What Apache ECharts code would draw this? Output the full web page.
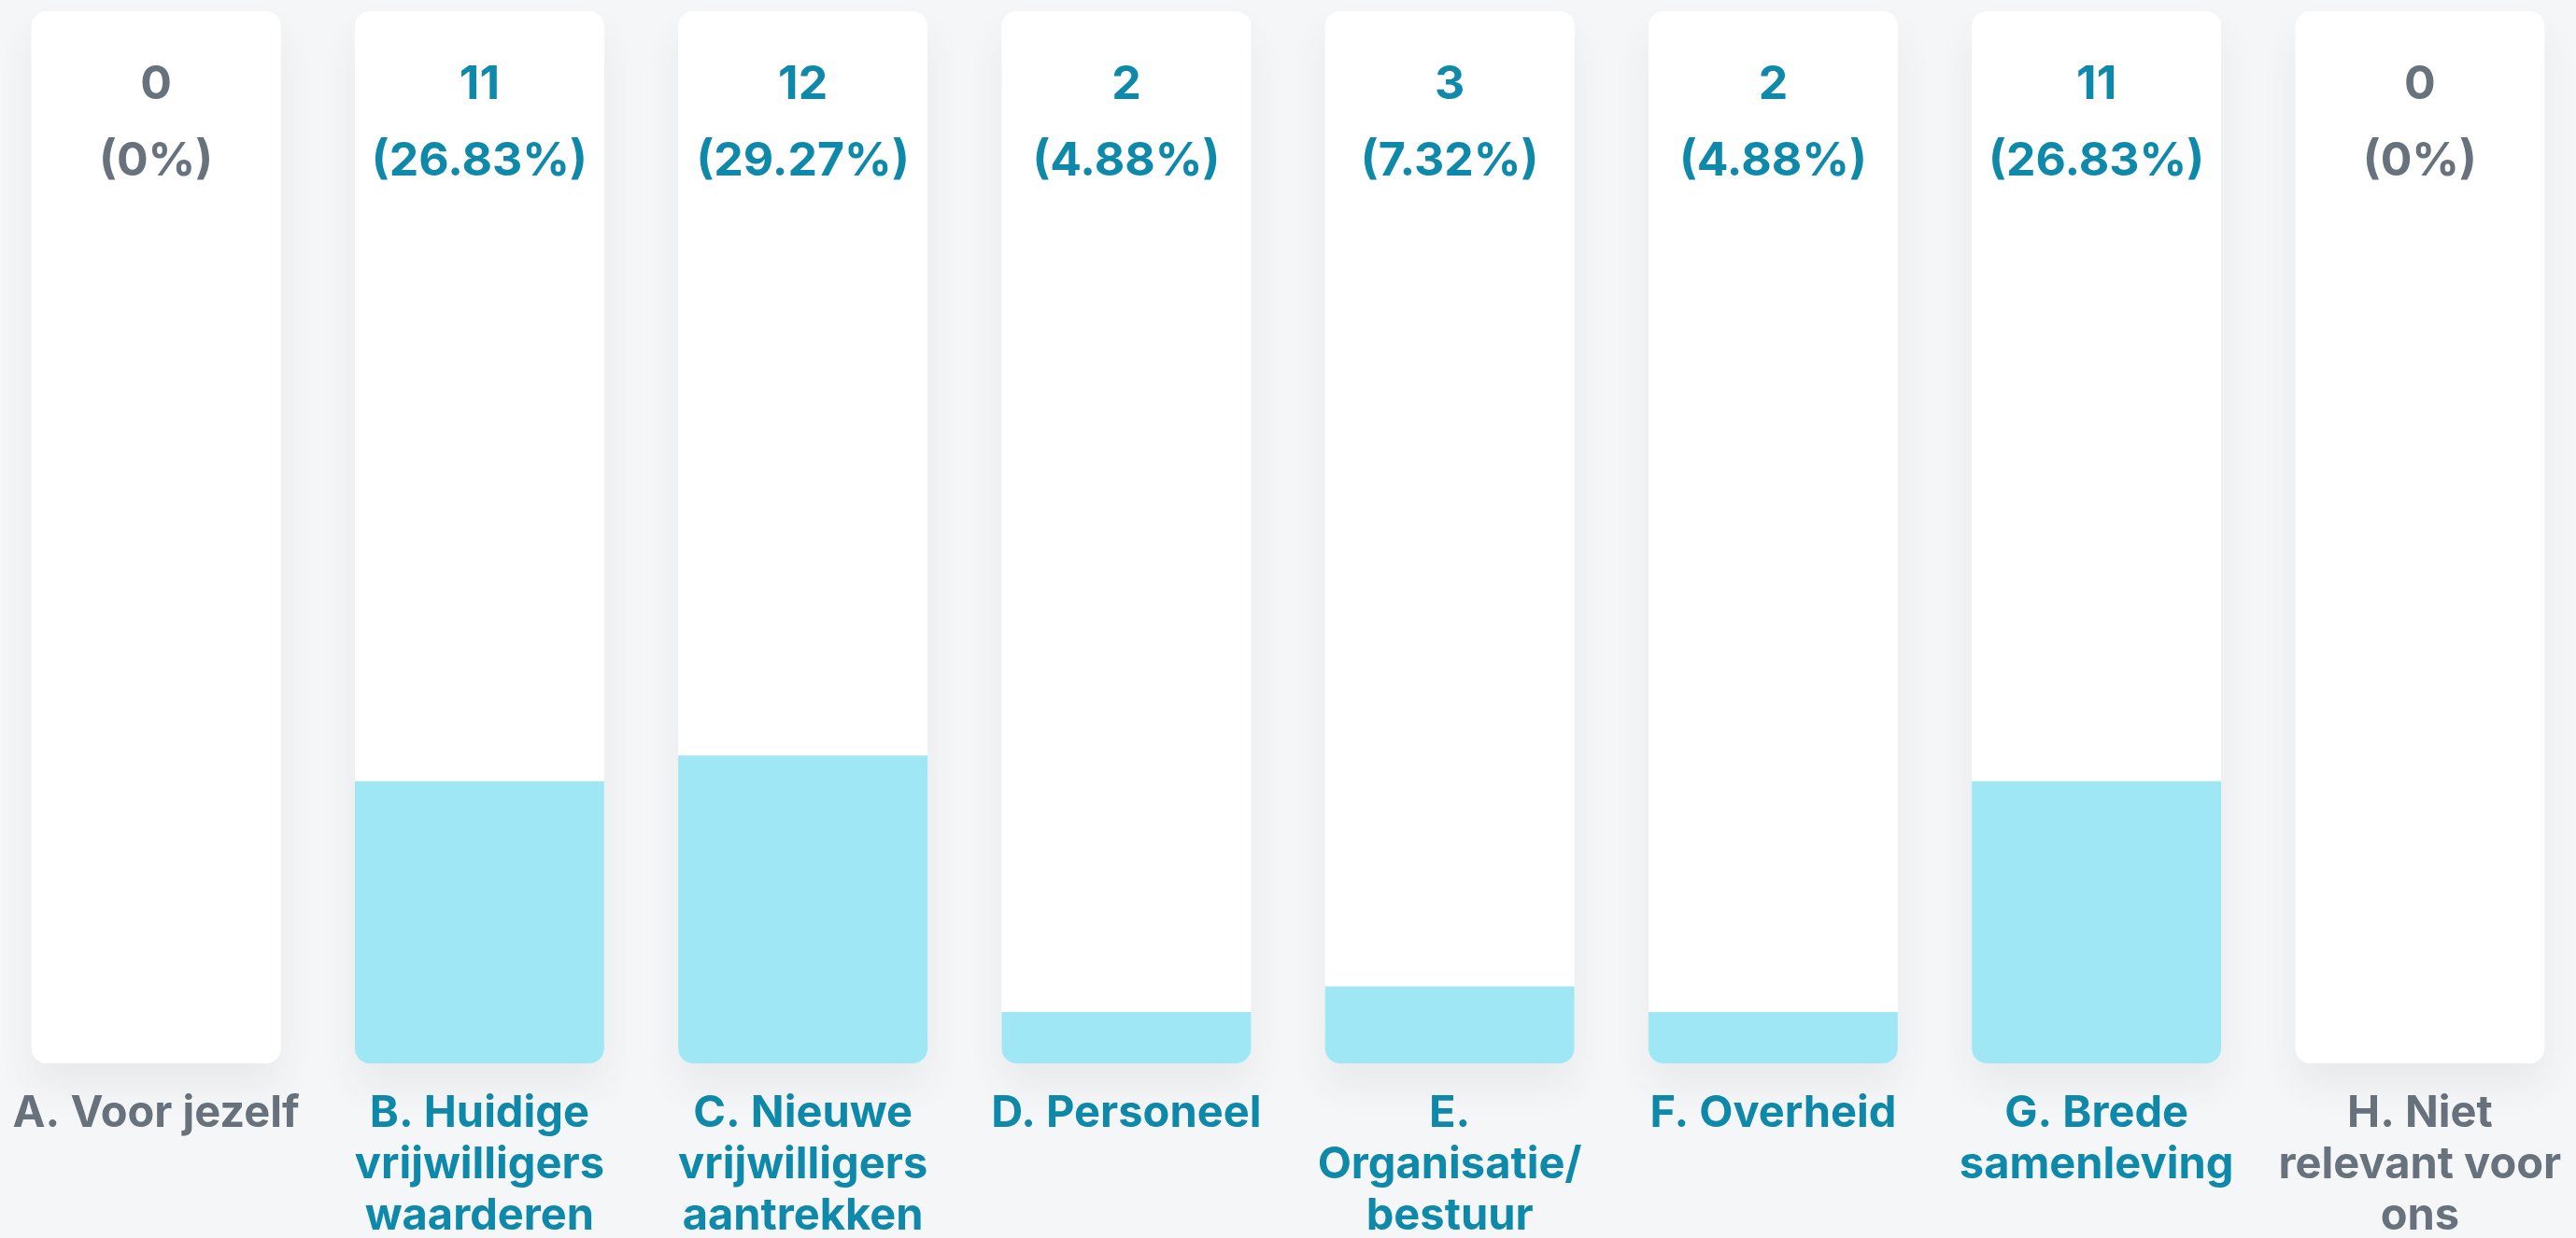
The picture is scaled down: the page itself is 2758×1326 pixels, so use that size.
<!DOCTYPE html>
<html>
<head>
<meta charset="utf-8">
<script src="https://cdn.jsdelivr.net/npm/echarts@6/dist/echarts.min.js"></script>
<style>
html,body{margin:0;padding:0;background:#f5f6f7;overflow:hidden;}
#chart{position:absolute;left:-6px;top:0;width:2770px;height:1326px;}
</style>
</head>
<body>
<div id="chart"></div>
<script>
const categories = [
  'A. Voor jezelf',
  'B. Huidige\nvrijwilligers\nwaarderen',
  'C. Nieuwe\nvrijwilligers\naantrekken',
  'D. Personeel',
  'E.\nOrganisatie/\nbestuur',
  'F. Overheid',
  'G. Brede\nsamenleving',
  'H. Niet\nrelevant voor\nons'
];
const counts = [0, 11, 12, 2, 3, 2, 11, 0];
const percents = [0, 26.83, 29.27, 4.88, 7.32, 4.88, 26.83, 0];
const scaleMax = 100;

const TEAL = '#0f89aa';
const GRAY = '#67727c';
const FONT = 'Inter, Roboto, sans-serif';

const chart = echarts.init(document.getElementById('chart'));
chart.setOption({
  backgroundColor: '#f5f6f7',
  animation: false,
  grid: { left: 0, right: 0, top: 12, bottom: 187, containLabel: false, outerBoundsMode: 'none' },
  xAxis: {
    type: 'category',
    data: categories,
    axisLine: { show: false },
    axisTick: { show: false },
    axisLabel: {
      interval: 0,
      margin: 26,
      fontFamily: FONT,
      fontWeight: 700,
      fontSize: 47,
      lineHeight: 55,
      align: 'center',
      verticalAlign: 'top',
      color: function (value, index) { return counts[index] > 0 ? TEAL : GRAY; }
    }
  },
  yAxis: { type: 'value', min: 0, max: scaleMax, show: false, splitLine: { show: false } },
  series: [
    {
      name: 'track',
      type: 'bar',
      barWidth: 267,
      z: 1,
      silent: true,
      data: categories.map(() => scaleMax),
      itemStyle: {
        color: '#ffffff',
        borderRadius: 16,
        shadowBlur: 40,
        shadowOffsetY: 24,
        shadowColor: 'rgba(60,70,85,0.07)'
      },
      label: {
        show: true,
        position: 'insideTop',
        distance: 38,
        fontFamily: FONT,
        formatter: function (p) {
          const i = p.dataIndex;
          const k = counts[i] > 0 ? 't' : 'g';
          return '{' + k + '|' + counts[i] + '}\n{' + k + '|(' + percents[i] + '%)}';
        },
        rich: {
          t: { color: TEAL, fontFamily: FONT, fontWeight: 700, fontSize: 50, lineHeight: 82, align: 'center' },
          g: { color: GRAY, fontFamily: FONT, fontWeight: 700, fontSize: 50, lineHeight: 82, align: 'center' }
        }
      }
    },
    {
      name: 'value',
      type: 'bar',
      barWidth: 267,
      barGap: '-100%',
      z: 2,
      data: percents,
      itemStyle: {
        color: '#9fe7f4',
        borderRadius: [0, 0, 16, 16]
      }
    }
  ]
});
</script>
</body>
</html>
